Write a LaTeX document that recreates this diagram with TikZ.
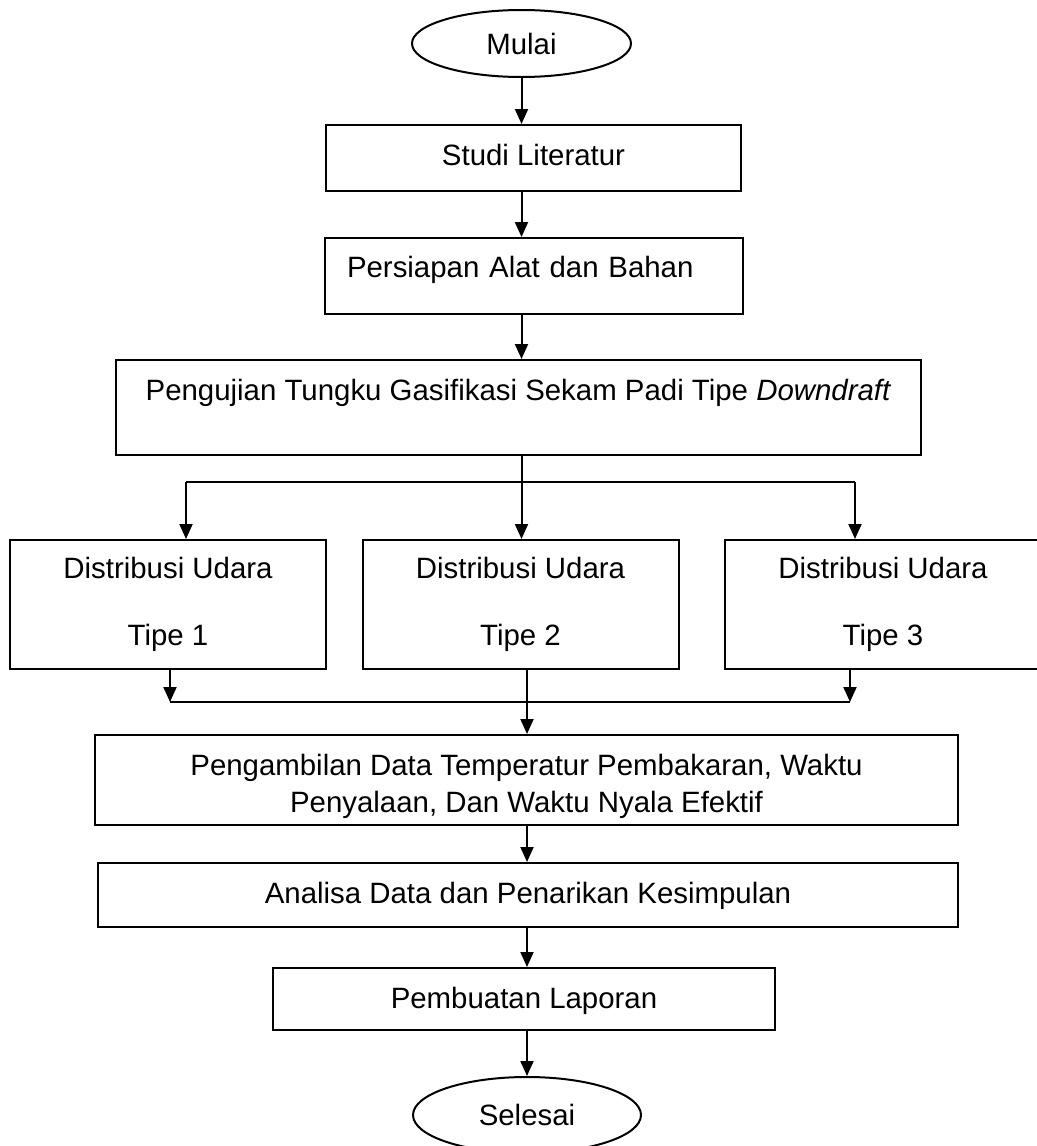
\documentclass[tikz,border=0pt]{standalone}
\usepackage{fontspec}
\setmainfont{Liberation Sans}
\usetikzlibrary{arrows.meta,positioning,shapes}

\begin{document}
\begin{tikzpicture}[x=0.5pt, y=-0.5pt, line width=1pt]

   \tikzstyle{terminal}=[ellipse, draw, inner sep=0pt, font=\fontsize{14.7}{18.5}\selectfont]
   \tikzstyle{proses}=[rectangle, draw, inner sep=0pt, font=\fontsize{14.7}{18.5}\selectfont]
   \tikzstyle{tipe}=[proses, align=center, minimum width=158pt, minimum height=64.5pt]
   \tikzstyle{panah}=[-{Triangle[length=7.5pt, width=6.5pt]}]

   \useasboundingbox (0,0) rectangle (1037,1146);

   \node[terminal, minimum width=109.5pt, minimum height=33.5pt] (mulai) at (521.5,43.5) {Mulai};
   \node[proses, minimum width=207.5pt, minimum height=33pt, text height=11pt, text depth=3.6pt] (studi) at (533.5,158) {Studi Literatur};
   \node[proses, text width=187pt, inner xsep=11pt, align=left, minimum height=38pt, text height=11pt, text depth=9.6pt] (persiapan) at (534,276) {Persiapan Alat dan Bahan};
   \node[proses, minimum width=402.5pt, minimum height=47.5pt, text height=11pt, text depth=18.1pt] (pengujian) at (518.5,407.5) {Pengujian Tungku Gasifikasi Sekam Padi Tipe \textit{Downdraft}};

   \node[tipe] (tipe1) at (168,604.5) {Distribusi Udara\\[15pt]Tipe 1};
   \node[tipe] (tipe2) at (520.5,604.5) {Distribusi Udara\\[15pt]Tipe 2};
   \node[tipe] (tipe3) at (883,604.5) {Distribusi Udara\\[15pt]Tipe 3};

   \node[proses, align=center, minimum width=431.5pt, minimum height=45pt, text height=35.4pt] (ambil) at (526.5,780) {Pengambilan Data Temperatur Pembakaran, Waktu\\Penyalaan, Dan Waktu Nyala Efektif};
   \node[proses, minimum width=430pt, minimum height=32pt, text height=11pt, text depth=2.6pt] (analisa) at (528,895) {Analisa Data dan Penarikan Kesimpulan};
   \node[proses, minimum width=251pt, minimum height=31pt, text height=11pt, text depth=1.6pt] (laporan) at (524,999) {Pembuatan Laporan};
   \node[terminal, minimum width=114pt, minimum height=38pt] (selesai) at (527,1115) {Selesai};

   % alur utama
   \draw[panah] (mulai.south) -- (studi.north -| mulai);
   \draw[panah] (studi.south -| mulai) -- (persiapan.north -| mulai);
   \draw[panah] (persiapan.south -| mulai) -- (pengujian.north -| mulai);
   \draw[panah] (pengujian.south -| mulai) -- (tipe2.north -| mulai);

   % percabangan
   \coordinate (cabang1) at (186,482);
   \coordinate (cabang3) at (855,482);
   \draw (cabang1) -- (cabang3);
   \draw[panah] (cabang1) -- (cabang1 |- tipe1.north);
   \draw[panah] (cabang3) -- (cabang3 |- tipe3.north);

   % penggabungan
   \coordinate (gabung1) at (170,702);
   \coordinate (gabung3) at (850,702);
   \draw[panah] (tipe1.south -| gabung1) -- (gabung1);
   \draw[panah] (tipe3.south -| gabung3) -- (gabung3);
   \draw (gabung1) -- (gabung3);

   \draw[panah] (tipe2.south -| selesai) -- (ambil.north -| selesai);
   \draw[panah] (ambil.south -| selesai) -- (analisa.north -| selesai);
   \draw[panah] (analisa.south -| selesai) -- (laporan.north -| selesai);
   \draw[panah] (laporan.south -| selesai) -- (selesai.north);
\end{tikzpicture}
\end{document}
